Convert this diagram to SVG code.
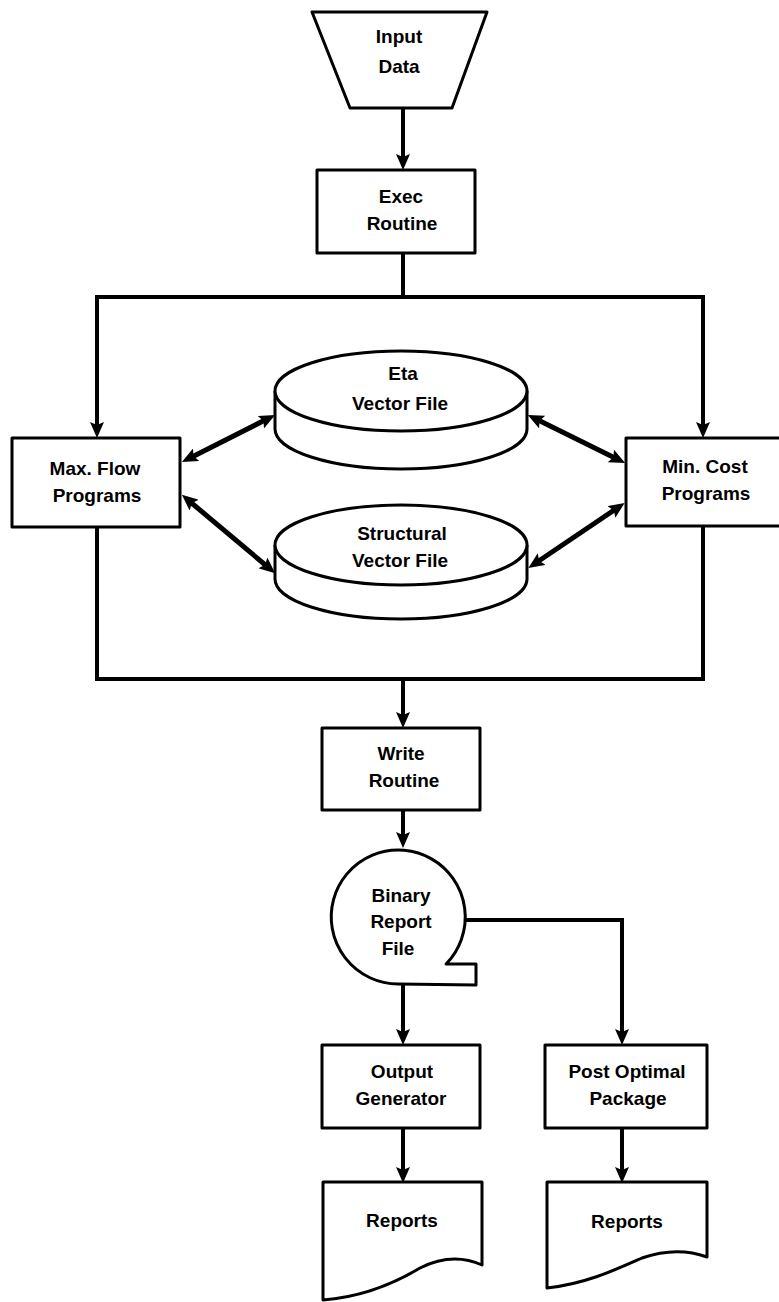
<svg xmlns="http://www.w3.org/2000/svg" width="779" height="1302" viewBox="0 0 779 1302">
<style>
.node{fill:#fff;stroke:#000;stroke-width:3;stroke-linejoin:round}
.c{fill:none;stroke:#000;stroke-width:4;stroke-linejoin:miter}
.d{fill:none;stroke:#000;stroke-width:5}
text{font-family:"Liberation Sans",Arial,sans-serif;font-weight:bold;font-size:19px;fill:#000;text-anchor:middle}
</style>
<defs>
<marker id="arr" viewBox="0 0 16 14" refX="8" refY="7" markerWidth="16" markerHeight="14" markerUnits="userSpaceOnUse" orient="auto-start-reverse">
<path d="M0,0 L16,7 L0,14 L3,7 Z" fill="#000"/>
</marker>
</defs>
<rect width="779" height="1302" fill="#fff"/>
<g id="connectors">
<path class="c" d="M403,108 V162" marker-end="url(#arr)"/>
<path class="c" d="M403,253 V297"/>
<path class="c" d="M97,430 V297 H703 V430" marker-start="url(#arr)" marker-end="url(#arr)"/>
<path class="c" d="M97,527 V679 H703 V525"/>
<path class="c" d="M403,679 V720" marker-end="url(#arr)"/>
<path class="c" d="M403,810 V840" marker-end="url(#arr)"/>
<path class="c" d="M403,985 V1037" marker-end="url(#arr)"/>
<path class="c" d="M465,920 H622 V1037" marker-end="url(#arr)"/>
<path class="c" d="M403,1128 V1175" marker-end="url(#arr)"/>
<path class="c" d="M622,1128 V1175" marker-end="url(#arr)"/>
<path class="d" d="M189,458.4 L268,418.6" marker-start="url(#arr)" marker-end="url(#arr)"/>
<path class="d" d="M188,500 L269,568" marker-start="url(#arr)" marker-end="url(#arr)"/>
<path class="d" d="M535,418.6 L618,459.4" marker-start="url(#arr)" marker-end="url(#arr)"/>
<path class="d" d="M535,563.5 L618,507.5" marker-start="url(#arr)" marker-end="url(#arr)"/>
</g>
<g id="input-data">
<path class="node" d="M312,12 H487 L452,108 H350 Z"/>
<text x="399" y="43">Input</text>
<text x="399" y="73">Data</text>
</g>
<g id="exec-routine">
<rect class="node" x="317" y="170" width="158" height="83"/>
<text x="401" y="203">Exec</text>
<text x="402" y="230">Routine</text>
</g>
<g id="max-flow">
<rect class="node" x="12" y="438" width="168" height="89"/>
<text x="95" y="475">Max. Flow</text>
<text x="97" y="502">Programs</text>
</g>
<g id="min-cost">
<rect class="node" x="626" y="438" width="160" height="88"/>
<text x="705" y="473">Min. Cost</text>
<text x="706" y="500">Programs</text>
</g>
<g id="eta-file">
<path class="node" d="M275,391 V429 A126,40 0 0 0 527,429 V391"/>
<ellipse class="node" cx="401" cy="391" rx="126" ry="40"/>
<text x="403" y="380">Eta</text>
<text x="400" y="410">Vector File</text>
</g>
<g id="structural-file">
<path class="node" d="M275,545 V579 A126,40 0 0 0 527,579 V545"/>
<ellipse class="node" cx="401" cy="545" rx="126" ry="40"/>
<text x="402" y="540">Structural</text>
<text x="400" y="567">Vector File</text>
</g>
<g id="write-routine">
<rect class="node" x="322" y="728" width="158" height="82"/>
<text x="401" y="760">Write</text>
<text x="404" y="787">Routine</text>
</g>
<g id="binary-report-file">
<path class="node" d="M398,984 A67,67 0 1 1 446,964 H476 V985 Z"/>
<text x="401" y="902">Binary</text>
<text x="401" y="928">Report</text>
<text x="398" y="955">File</text>
</g>
<g id="output-generator">
<rect class="node" x="322" y="1045" width="158" height="83"/>
<text x="402" y="1078">Output</text>
<text x="401" y="1105">Generator</text>
</g>
<g id="post-optimal">
<rect class="node" x="545" y="1045" width="162" height="83"/>
<text x="627" y="1078">Post Optimal</text>
<text x="628" y="1105">Package</text>
</g>
<g id="reports-1">
<path class="node" d="M323,1182 H482 V1265 C462,1256 440,1258 420,1268 C395,1283 362,1297 323,1300 Z"/>
<text x="402" y="1227">Reports</text>
</g>
<g id="reports-2">
<path class="node" d="M547,1182 H707 V1257 C688,1250 665,1250 642,1258 C615,1270 585,1284 547,1288 Z"/>
<text x="627" y="1228">Reports</text>
</g>
</svg>
